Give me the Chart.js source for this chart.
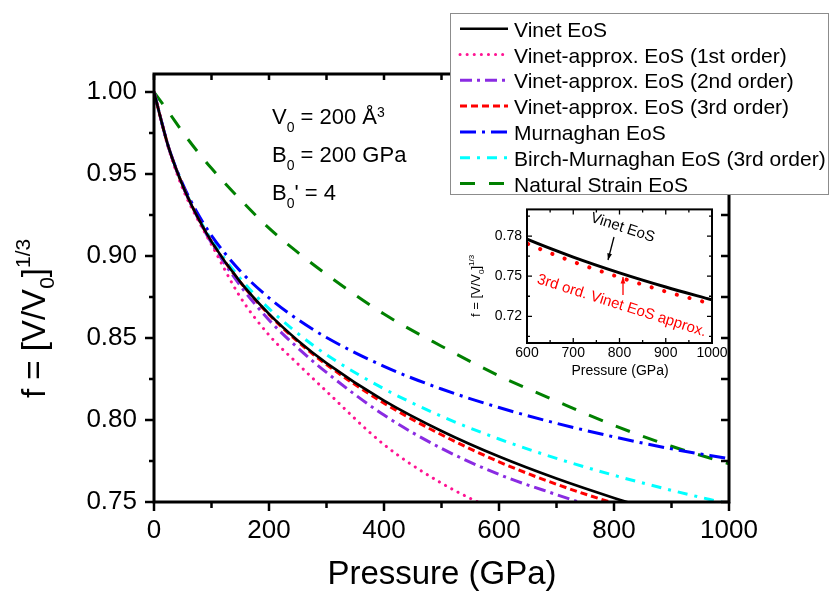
<!DOCTYPE html>
<html>
<head>
<meta charset="utf-8">
<script src="https://cdn.jsdelivr.net/npm/chart.js@4.4.1/dist/chart.umd.min.js"></script>
<style>
  html, body { margin: 0; padding: 0; background: #fff; }
  #wrap { position: relative; width: 830px; height: 595px; }
  #mainChart { position: absolute; left: 0; top: 0; }
  #insetChart { position: absolute; left: 455px; top: 196px; }
</style>
</head>
<body>
<div id="wrap">
  <canvas id="mainChart" width="830" height="595"></canvas>
  <canvas id="insetChart" width="275" height="190"></canvas>
</div>
<script>
const FONT = '"Liberation Sans", Arial, sans-serif';

// pressure grid (GPa), shared by every curve
const pressure = [0, 25, 50, 75, 100, 150, 200, 250, 300, 400, 500, 600, 700, 800, 900, 1000];

// f = [V/V0]^(1/3)
const vinet      = [1.000, 0.9667, 0.9429, 0.9243, 0.9088, 0.8842, 0.8647, 0.8485, 0.8347, 0.8118, 0.7933, 0.7777, 0.7643, 0.7525, 0.7419, 0.7323];
const vinet1st   = [1.000, 0.9660, 0.9410, 0.9230, 0.9070, 0.8750, 0.8518, 0.8343, 0.8175, 0.7850, 0.7615, 0.7440, 0.7290, 0.7160, 0.7050, 0.6950];
const vinet2nd   = [1.000, 0.9667, 0.9428, 0.9240, 0.9080, 0.8820, 0.8610, 0.8440, 0.8290, 0.8030, 0.7827, 0.7668, 0.7545, 0.7430, 0.7330, 0.7240];
const vinet3rd   = [1.000, 0.9667, 0.9429, 0.9243, 0.9087, 0.8840, 0.8643, 0.8478, 0.8338, 0.8103, 0.7910, 0.7745, 0.7608, 0.7492, 0.7385, 0.7292];
const murnaghan  = [1.000, 0.9668, 0.9439, 0.9265, 0.9125, 0.8909, 0.8745, 0.8613, 0.8503, 0.8327, 0.8189, 0.8076, 0.7980, 0.7897, 0.7824, 0.7765];
const birchMurn  = [1.000, 0.9667, 0.9432, 0.9250, 0.9099, 0.8863, 0.8679, 0.8528, 0.8398, 0.8190, 0.8023, 0.7884, 0.7766, 0.7663, 0.7571, 0.7488];
const natStrain  = [1.000, 0.9880, 0.9755, 0.9640, 0.9535, 0.9345, 0.9170, 0.9022, 0.8888, 0.8646, 0.8450, 0.8270, 0.8115, 0.7967, 0.7840, 0.7733];

const seriesLabels = [
  'Vinet EoS',
  'Vinet-approx. EoS (1st order)',
  'Vinet-approx. EoS (2nd order)',
  'Vinet-approx. EoS (3rd order)',
  'Murnaghan EoS',
  'Birch-Murnaghan EoS (3rd order)',
  'Natural Strain EoS'
];
const seriesValues = [vinet, vinet1st, vinet2nd, vinet3rd, murnaghan, birchMurn, natStrain];
const seriesColors = ['#000000', '#ff1493', '#8a2be2', '#ff0000', '#0000ff', '#00ffff', '#008000'];
const seriesDashes = [[], [0.1, 7], [12, 5, 3, 5], [7, 4], [16, 6, 3, 6], [10, 7, 3, 7], [15, 14]];

// axis ticks
const xTicks = [0, 200, 400, 600, 800, 1000];
const xMinor = [100, 300, 500, 700, 900];
const xTop   = [0, 100, 200, 300, 400, 500, 600, 700, 800, 900, 1000];
const yTicks = [0.75, 0.80, 0.85, 0.90, 0.95, 1.00];
const yMinor = [0.775, 0.825, 0.875, 0.925, 0.975];
const yRight = [0.75, 0.775, 0.80, 0.825, 0.85, 0.875, 0.90, 0.925, 0.95, 0.975, 1.00];

// inset axes
const insetXTicks = [600, 700, 800, 900, 1000];
const insetXMinor = [650, 750, 850, 950];
const insetYTicks = [0.72, 0.75, 0.78];
const insetYMinor = [0.705, 0.735, 0.765, 0.795];

const toPoints = vals => pressure.map((p, i) => ({ x: p, y: vals[i] }));

// text with sub/superscripts: parts = [[text, mode]]
function richText(ctx, parts, x, y, size, subDrop, supRise) {
  let cx = x;
  parts.forEach(([t, mode]) => {
    const s = mode ? Math.round(size * 0.63) : size;
    const dy = mode === 'sub' ? size * subDrop : mode === 'sup' ? -size * supRise : 0;
    ctx.font = s + 'px ' + FONT;
    ctx.fillText(t, cx, y + dy);
    cx += ctx.measureText(t).width;
  });
}

// box + tick marks drawn against the chart's own scales
const framePlugin = {
  id: 'frame',
  afterDraw(chart, args, opts) {
    const { ctx, chartArea: a, scales: { x, y } } = chart;
    ctx.save();
    ctx.strokeStyle = '#000';
    ctx.lineWidth = opts.lineWidth;
    ctx.lineCap = 'butt';
    ctx.strokeRect(a.left, a.top, a.right - a.left, a.bottom - a.top);
    ctx.lineWidth = opts.tickWidth;
    ctx.beginPath();
    (opts.bottom || []).forEach(([vals, len]) => vals.forEach(v => {
      const px = x.getPixelForValue(v);
      ctx.moveTo(px, a.bottom); ctx.lineTo(px, a.bottom + len);
    }));
    (opts.top || []).forEach(([vals, len]) => vals.forEach(v => {
      const px = x.getPixelForValue(v);
      ctx.moveTo(px, a.top); ctx.lineTo(px, a.top - len);
    }));
    (opts.left || []).forEach(([vals, len]) => vals.forEach(v => {
      const py = y.getPixelForValue(v);
      ctx.moveTo(a.left, py); ctx.lineTo(a.left - len, py);
    }));
    (opts.right || []).forEach(([vals, len]) => vals.forEach(v => {
      const py = y.getPixelForValue(v);
      ctx.moveTo(a.right, py); ctx.lineTo(a.right + len, py);
    }));
    ctx.stroke();
    ctx.restore();
  }
};

// titles, parameter text and legend box for the main plot
const mainDecor = {
  id: 'mainDecor',
  afterDraw(chart) {
    const ctx = chart.ctx;
    ctx.save();
    ctx.fillStyle = '#000';
    ctx.textBaseline = 'alphabetic';
    ctx.textAlign = 'left';

    // x title
    ctx.font = '33px ' + FONT;
    const xt = 'Pressure (GPa)';
    ctx.fillText(xt, 442 - ctx.measureText(xt).width / 2, 584);

    // y title
    ctx.save();
    ctx.translate(45, 398);
    ctx.rotate(-Math.PI / 2);
    richText(ctx, [['f = [V/V', ''], ['0', 'sub'], [']', ''], ['1/3', 'sup']], 0, 0, 33, 0.28, 0.45);
    ctx.restore();

    // parameters
    richText(ctx, [['V', ''], ['0', 'sub'], [' = 200 Å', ''], ['3', 'sup']], 272, 124, 22, 0.38, 0.33);
    richText(ctx, [['B', ''], ['0', 'sub'], [' = 200 GPa', '']], 272, 162, 22, 0.38, 0.33);
    richText(ctx, [['B', ''], ['0', 'sub'], ['\' = 4', '']], 272, 200, 22, 0.38, 0.33);

    // legend
    ctx.fillStyle = '#fff';
    ctx.fillRect(450, 13, 380, 182);
    ctx.strokeStyle = '#8c8c8c';
    ctx.lineWidth = 1;
    ctx.strokeRect(450.5, 13.5, 378, 181);
    ctx.font = '21px ' + FONT;
    chart.data.datasets.forEach((ds, i) => {
      const by = 36.7 + i * 25.8;
      ctx.save();
      ctx.strokeStyle = ds.borderColor;
      ctx.lineWidth = ds.borderWidth;
      ctx.lineCap = ds.borderCapStyle || 'butt';
      ctx.setLineDash(ds.borderDash);
      ctx.beginPath();
      ctx.moveTo(460, by - 8);
      ctx.lineTo(508, by - 8);
      ctx.stroke();
      ctx.restore();
      ctx.fillStyle = '#000';
      ctx.fillText(ds.label, 514, by);
    });
    ctx.restore();
  }
};

const mainChart = new Chart(document.getElementById('mainChart'), {
  type: 'line',
  data: {
    datasets: seriesLabels.map((label, i) => ({
      label: label,
      data: toPoints(seriesValues[i]),
      borderColor: seriesColors[i],
      borderWidth: i === 0 ? 2.6 : 3,
      borderDash: seriesDashes[i],
      borderCapStyle: i === 1 ? 'round' : 'butt',
      pointRadius: 0,
      fill: false,
      cubicInterpolationMode: 'monotone'
    }))
  },
  options: {
    responsive: false,
    devicePixelRatio: 1,
    animation: false,
    layout: { padding: { top: 74, right: 101, left: 0, bottom: 0 } },
    plugins: {
      legend: { display: false },
      tooltip: { enabled: false },
      frame: {
        lineWidth: 3, tickWidth: 2.5,
        bottom: [[xTicks, 9], [xMinor, 6]],
        top: [[xTop, -6]],
        left: [[yTicks, 9], [yMinor, 5]],
        right: [[yRight, -8]]
      }
    },
    scales: {
      x: {
        type: 'linear', min: 0, max: 1000,
        afterBuildTicks: s => { s.ticks = xTicks.map(v => ({ value: v })); },
        afterFit: s => { s.height = 93; },
        ticks: { font: { size: 26, family: FONT }, color: '#000', padding: 13, maxRotation: 0, autoSkip: false,
                 callback: v => String(v) },
        grid: { display: false, drawTicks: false },
        border: { display: false }
      },
      y: {
        type: 'linear', min: 0.75, max: 1.011,
        afterBuildTicks: s => { s.ticks = yTicks.map(v => ({ value: v })); },
        afterFit: s => { s.width = 154; },
        ticks: { font: { size: 26, family: FONT }, color: '#000', padding: 17, callback: v => v.toFixed(2) },
        grid: { display: false, drawTicks: false },
        border: { display: false }
      }
    }
  },
  plugins: [framePlugin, mainDecor]
});

// inset: Vinet vs 3rd order approximation, 600-1000 GPa
const insetDecor = {
  id: 'insetDecor',
  afterDraw(chart) {
    const ctx = chart.ctx;
    ctx.save();
    ctx.fillStyle = '#000';
    ctx.textBaseline = 'alphabetic';
    ctx.font = '14px ' + FONT;
    const xt = 'Pressure (GPa)';
    ctx.fillText(xt, 165 - ctx.measureText(xt).width / 2, 179);

    ctx.save();
    ctx.translate(25, 121);
    ctx.rotate(-Math.PI / 2);
    richText(ctx, [['f = [V/V', ''], ['0', 'sub'], [']', ''], ['1/3', 'sup']], 0, 0, 13, 0.28, 0.45);
    ctx.restore();

    // labels + arrows
    ctx.save();
    ctx.translate(168, 31);
    ctx.rotate(18 * Math.PI / 180);
    ctx.font = '15px ' + FONT;
    ctx.textAlign = 'center';
    ctx.fillText('Vinet EoS', 0, 5);
    ctx.restore();

    const arrow = (x1, y1, x2, y2, col) => {
      ctx.strokeStyle = col; ctx.fillStyle = col; ctx.lineWidth = 1.3;
      ctx.beginPath(); ctx.moveTo(x1, y1); ctx.lineTo(x2, y2); ctx.stroke();
      const ang = Math.atan2(y2 - y1, x2 - x1);
      ctx.beginPath();
      ctx.moveTo(x2, y2);
      ctx.lineTo(x2 - 7 * Math.cos(ang - 0.35), y2 - 7 * Math.sin(ang - 0.35));
      ctx.lineTo(x2 - 7 * Math.cos(ang + 0.35), y2 - 7 * Math.sin(ang + 0.35));
      ctx.closePath(); ctx.fill();
    };
    arrow(159, 41, 153, 64, '#000');
    arrow(168, 99, 168, 81, '#ff0000');

    ctx.save();
    ctx.translate(167, 109);
    ctx.rotate(17.6 * Math.PI / 180);
    ctx.font = '15px ' + FONT;
    ctx.fillStyle = '#ff0000';
    ctx.textAlign = 'center';
    ctx.fillText('3rd ord. Vinet EoS approx.', 0, 5);
    ctx.restore();
    ctx.restore();
  }
};

const insetChart = new Chart(document.getElementById('insetChart'), {
  type: 'line',
  data: {
    datasets: [
      { label: seriesLabels[0], data: toPoints(vinet), borderColor: '#000', borderWidth: 3,
        pointRadius: 0, cubicInterpolationMode: 'monotone' },
      { label: seriesLabels[3], data: toPoints(vinet3rd), borderColor: '#ff0000', borderWidth: 4,
        borderDash: [0.1, 13], borderCapStyle: 'round', pointRadius: 0, cubicInterpolationMode: 'monotone' }
    ]
  },
  options: {
    responsive: false,
    devicePixelRatio: 1,
    animation: false,
    layout: { padding: { top: 7, right: 18, left: 0, bottom: 0 } },
    plugins: {
      legend: { display: false },
      tooltip: { enabled: false },
      frame: {
        lineWidth: 2, tickWidth: 1.3,
        bottom: [[insetXTicks, -5], [insetXMinor, -3]],
        top: [[insetXTicks, -5], [insetXMinor, -3]],
        left: [[insetYTicks, -5], [insetYMinor, -3]],
        right: [[insetYTicks, -5], [insetYMinor, -3]]
      }
    },
    scales: {
      x: {
        type: 'linear', min: 600, max: 1000,
        afterBuildTicks: s => { s.ticks = insetXTicks.map(v => ({ value: v })); },
        afterFit: s => { s.height = 43; },
        ticks: { font: { size: 14, family: FONT }, color: '#000', padding: 2, maxRotation: 0, autoSkip: false,
                 callback: v => String(v) },
        grid: { display: false, drawTicks: false },
        border: { display: false }
      },
      y: {
        type: 'linear', min: 0.70, max: 0.80,
        afterBuildTicks: s => { s.ticks = insetYTicks.map(v => ({ value: v })); },
        afterFit: s => { s.width = 72; },
        ticks: { font: { size: 14, family: FONT }, color: '#000', padding: 5, callback: v => v.toFixed(2) },
        grid: { display: false, drawTicks: false },
        border: { display: false }
      }
    }
  },
  plugins: [framePlugin, insetDecor]
});
</script>
</body>
</html>
